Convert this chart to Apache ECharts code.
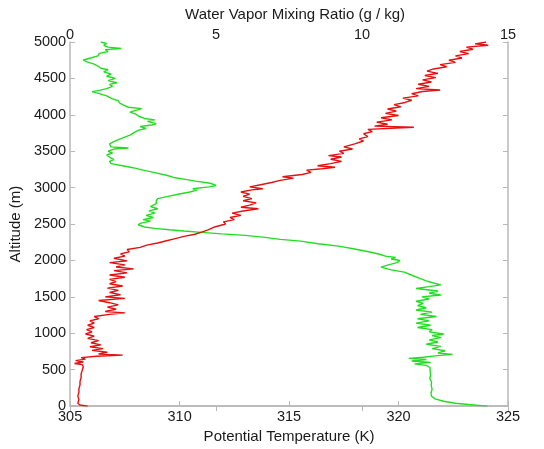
<!DOCTYPE html>
<html>
<head>
<meta charset="utf-8">
<script src="https://cdn.jsdelivr.net/npm/echarts@6/dist/echarts.min.js"></script>
<style>
html,body{margin:0;padding:0;background:#fff;}
#chart{width:544px;height:449px;}
</style>
</head>
<body>
<div id="chart"></div>
<script>
// Potential temperature (red, bottom axis, K) vs altitude (m)
const tempAlt = [0,15,40,90,140,190,240,290,340,390,440,490,540,570,585,605,625,645,665,685,700,715,740,765,790,815,840,870,900,930,960,990,1020,1050,1080,1110,1140,1170,1200,1230,1260,1280,1300,1330,1360,1390,1420,1450,1480,1500,1530,1560,1590,1620,1650,1680,1710,1740,1770,1800,1830,1860,1885,1910,1940,1970,1995,2030,2060,2090,2120,2150,2180,2210,2240,2270,2300,2330,2360,2390,2420,2460,2500,2530,2560,2590,2620,2650,2680,2710,2730,2760,2790,2820,2850,2880,2910,2940,2970,2985,3010,3040,3070,3100,3130,3150,3180,3210,3240,3260,3280,3300,3330,3360,3390,3420,3440,3470,3500,3530,3560,3600,3640,3670,3700,3740,3770,3800,3830,3845,3870,3900,3930,3960,3990,4020,4050,4080,4110,4140,4170,4200,4230,4260,4290,4320,4340,4360,4390,4420,4450,4480,4510,4540,4570,4600,4630,4660,4690,4720,4750,4780,4810,4840,4870,4900,4930,4955,4975,5000];
const tempK = [305.8,305.45,305.35,305.4,305.35,305.4,305.4,305.45,305.45,305.5,305.5,305.55,305.6,305.55,305.2,305.6,305.25,305.7,305.5,306.2,307.4,306.3,306.7,306.0,306.5,305.9,306.4,305.95,306.3,305.8,306.1,305.7,306.0,305.75,306.1,305.8,306.1,305.9,306.3,306.1,306.8,307.5,306.6,307.1,306.7,307.2,306.8,306.3,307.5,306.6,307.3,306.8,307.2,306.7,307.4,306.8,307.1,306.8,307.5,306.8,307.6,307.0,307.9,307.1,307.5,306.8,307.6,307.0,307.5,307.3,307.7,307.6,308.2,308.5,309.0,309.4,309.8,310.2,310.7,311.0,311.3,311.6,312.1,312.0,312.5,312.3,312.8,312.4,312.9,313.6,312.8,313.2,313.5,312.9,313.3,312.9,313.2,312.8,313.3,313.8,313.2,313.7,314.2,314.6,315.2,314.7,315.6,316.0,315.8,316.5,317.1,316.3,316.9,317.4,316.9,317.4,316.8,317.5,317.3,317.9,317.5,318.0,318.4,318.2,318.6,318.4,318.8,318.6,320.7,318.9,319.5,319.0,319.7,319.2,320.0,319.4,319.9,319.5,320.1,319.8,320.3,320.6,320.2,320.9,320.6,321.1,321.9,320.8,321.4,320.9,321.5,321.1,321.7,321.2,321.8,321.3,321.6,322.2,321.9,322.6,322.3,322.9,322.6,323.2,322.8,323.4,323.1,324.1,323.5,324.0];

// Water vapor mixing ratio (green, top axis, g/kg) vs altitude (m)
const mixAlt = [0,10,22,40,67,100,135,180,230,280,330,380,430,480,530,560,580,600,620,640,655,670,690,710,730,760,790,820,850,880,910,940,970,990,1020,1050,1080,1110,1140,1170,1200,1230,1260,1290,1320,1350,1380,1410,1440,1470,1500,1525,1550,1580,1615,1640,1665,1690,1720,1750,1790,1840,1870,1908,1940,1970,2000,2020,2040,2060,2085,2110,2130,2160,2197,2230,2265,2290,2320,2345,2365,2386,2405,2422,2440,2460,2490,2510,2540,2560,2590,2620,2650,2680,2710,2740,2780,2820,2850,2880,2910,2940,2965,2985,3010,3030,3060,3090,3110,3140,3170,3207,3240,3274,3300,3330,3360,3386,3420,3450,3476,3500,3530,3545,3560,3600,3633,3660,3690,3722,3760,3790,3812,3840,3860,3880,3910,3930,3950,3980,4010,4036,4060,4085,4104,4130,4160,4193,4220,4260,4290,4319,4335,4360,4390,4418,4440,4470,4500,4530,4560,4590,4619,4640,4670,4700,4730,4753,4780,4810,4843,4870,4895,4910,4930,4955,4980,5000];
const mixG = [14.3,14.0,13.65,13.2,12.8,12.5,12.38,12.36,12.4,12.37,12.38,12.32,12.35,12.33,12.33,12.2,11.8,12.35,11.7,12.2,11.6,12.1,12.5,13.1,12.6,12.85,12.4,12.7,12.2,12.6,12.3,12.7,12.4,12.8,12.3,12.4,11.9,12.35,11.85,12.3,11.9,12.55,12.0,12.4,11.85,12.2,11.9,12.1,11.85,12.3,12.05,12.7,12.3,12.6,11.85,12.3,12.7,12.45,12.2,12.0,11.75,11.45,11.0,10.65,10.9,11.2,11.3,11.0,11.15,10.8,10.6,10.35,10.1,9.7,9.2,8.5,7.9,7.2,6.6,6.0,5.2,4.5,3.9,3.4,2.9,2.55,2.33,2.4,2.75,2.5,2.85,2.6,2.9,2.7,3.0,2.75,2.95,2.95,3.0,3.35,3.7,4.1,4.35,4.2,4.75,5.0,4.8,4.3,4.0,3.55,3.3,2.9,2.5,2.15,1.8,1.4,1.35,1.5,1.35,1.25,1.45,1.3,1.5,2.0,1.4,1.35,1.5,1.65,1.85,2.05,2.2,2.35,2.6,2.4,2.8,2.95,2.65,2.9,2.55,2.35,2.25,2.05,2.25,2.45,2.0,1.85,1.7,1.65,1.45,1.25,1.0,0.75,1.0,1.25,1.45,1.35,1.6,1.3,1.55,1.25,1.4,1.15,1.3,1.05,0.95,0.8,0.55,0.45,0.7,0.95,1.0,1.3,1.2,1.75,1.3,1.15,1.25,1.05];

const tempTicks = {min:305, max:325, interval:5};
const mixTicks = {min:0, max:15, interval:5};
const altTicks = {min:0, max:5000, interval:500};

const tempData = tempAlt.map((a,i)=>[tempK[i], a]);
const mixData = mixAlt.map((a,i)=>[mixG[i], a]);

const axisGray = '#b8b8b8';
const txt = '#1a1a1a';
const font = 'Liberation Sans, Arial, sans-serif';
const tickSize = 14.5;
const nameSize = 15;

const chart = echarts.init(document.getElementById('chart'), null, {renderer:'canvas'});
chart.setOption({
  animation:false,
  backgroundColor:'#fff',
  grid:{left:65, right:36, top:42, bottom:36, containLabel:false},
  xAxis:[
    {type:'value', position:'bottom', min:tempTicks.min, max:tempTicks.max, interval:tempTicks.interval,
     name:'Potential Temperature (K)', nameLocation:'middle', nameGap:18,
     nameTextStyle:{color:txt, fontSize:nameSize, fontFamily:font},
     axisLine:{show:true, lineStyle:{color:axisGray, width:1.5}},
     axisTick:{show:true, inside:true, length:5, lineStyle:{color:axisGray}},
     axisLabel:{color:txt, fontSize:tickSize, fontFamily:font, margin:3},
     splitLine:{show:false}},
    {type:'value', position:'top', min:mixTicks.min, max:mixTicks.max, interval:mixTicks.interval,
     name:'Water Vapor Mixing Ratio (g / kg)', nameLocation:'middle', nameGap:19,
     nameTextStyle:{color:txt, fontSize:nameSize, fontFamily:font, padding:[0,0,0,12]},
     axisLine:{show:true, lineStyle:{color:axisGray, width:1.5}},
     axisTick:{show:true, inside:true, length:5, lineStyle:{color:axisGray}},
     axisLabel:{color:txt, fontSize:tickSize, fontFamily:font, margin:0},
     splitLine:{show:false}}
  ],
  yAxis:[
    {type:'value', position:'left', min:altTicks.min, max:altTicks.max, interval:altTicks.interval,
     name:'Altitude (m)', nameLocation:'middle', nameGap:38, nameRotate:90,
     nameTextStyle:{color:txt, fontSize:nameSize, fontFamily:font},
     axisLine:{show:true, lineStyle:{color:axisGray, width:1.5}},
     axisTick:{show:true, inside:true, length:5, lineStyle:{color:axisGray}},
     axisLabel:{color:txt, fontSize:tickSize, fontFamily:font, margin:4, formatter:v=>String(v)},
     splitLine:{show:false}},
    {type:'value', position:'right', min:altTicks.min, max:altTicks.max, interval:altTicks.interval,
     axisLine:{show:true, lineStyle:{color:axisGray, width:1.5}},
     axisTick:{show:true, inside:true, length:5, lineStyle:{color:axisGray}},
     axisLabel:{show:false}, splitLine:{show:false}}
  ],
  series:[
    {type:'line', name:'Potential Temperature', xAxisIndex:0, yAxisIndex:0, data:tempData,
     showSymbol:false, symbol:'none', lineStyle:{color:'#e51010', width:1.4}, z:3},
    {type:'line', name:'Water Vapor Mixing Ratio', xAxisIndex:1, yAxisIndex:0, data:mixData,
     showSymbol:false, symbol:'none', lineStyle:{color:'#22dd22', width:1.4}, z:2}
  ]
});
</script>
</body>
</html>
